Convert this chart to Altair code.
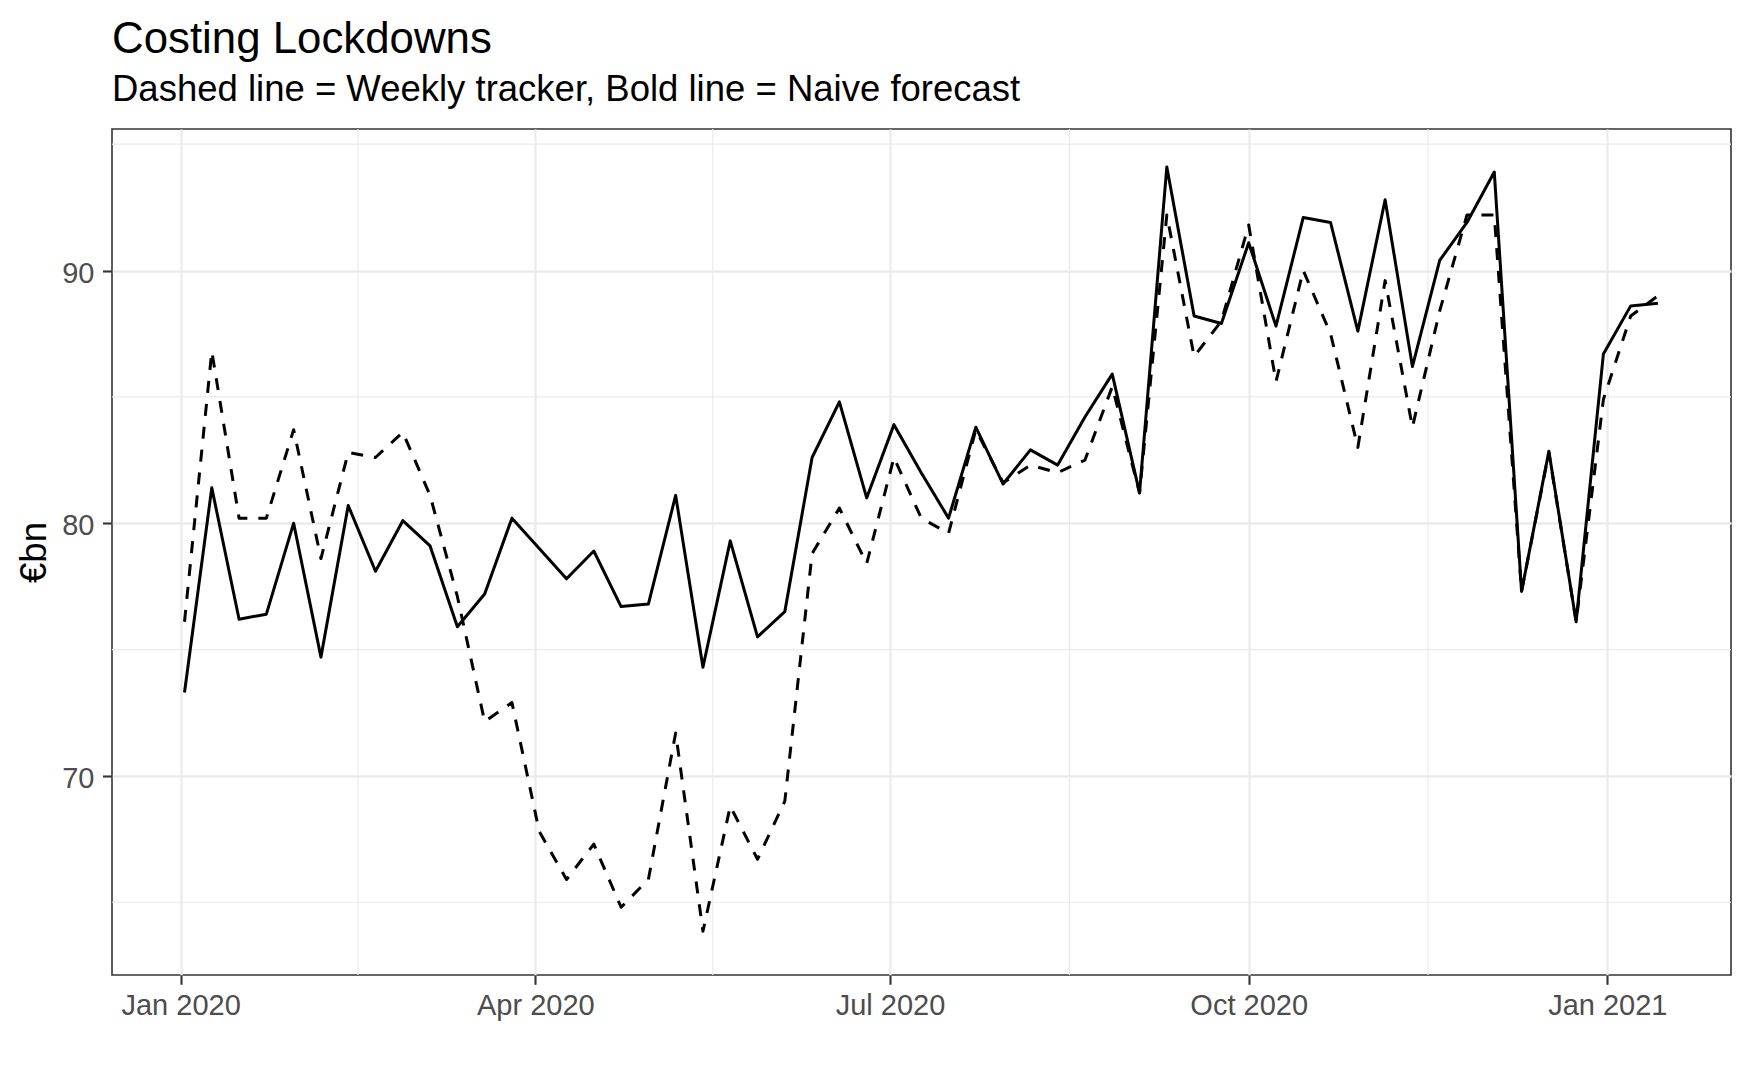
import altair as alt
import pandas as pd

# ---------------- data ----------------
dates = [
    "2020-01-02", "2020-01-09", "2020-01-16", "2020-01-23", "2020-01-30",
    "2020-02-06", "2020-02-13", "2020-02-20", "2020-02-27",
    "2020-03-05", "2020-03-12", "2020-03-19", "2020-03-26",
    "2020-04-02", "2020-04-09", "2020-04-16", "2020-04-23", "2020-04-30",
    "2020-05-07", "2020-05-14", "2020-05-21", "2020-05-28",
    "2020-06-04", "2020-06-11", "2020-06-18", "2020-06-25",
    "2020-07-02", "2020-07-09", "2020-07-16", "2020-07-23", "2020-07-30",
    "2020-08-06", "2020-08-13", "2020-08-20", "2020-08-27",
    "2020-09-03", "2020-09-10", "2020-09-17", "2020-09-24",
    "2020-10-01", "2020-10-08", "2020-10-15", "2020-10-22", "2020-10-29",
    "2020-11-05", "2020-11-12", "2020-11-19", "2020-11-26",
    "2020-12-03", "2020-12-10", "2020-12-17", "2020-12-24", "2020-12-31",
    "2021-01-07", "2021-01-14",
]

# Bold line = Naive forecast
forecast = [
    73.3, 81.4, 76.2, 76.4, 80.0, 74.7, 80.7, 78.1, 80.1, 79.1,
    75.9, 77.2, 80.2, 79.0, 77.8, 78.9, 76.7, 76.8, 81.1, 74.3,
    79.3, 75.5, 76.5, 82.6, 84.8, 81.0, 83.9, 82.0, 80.2, 83.8,
    81.55, 82.9, 82.3, 84.2, 85.9, 81.2, 94.1, 88.2, 87.9, 91.1,
    87.8, 92.1, 91.9, 87.6, 92.8, 86.2, 90.4, 91.9, 93.9, 77.3,
    82.85, 76.1, 86.7, 88.6, 88.7,
]

# Dashed line = Weekly tracker
tracker = [
    76.1, 86.8, 80.2, 80.2, 83.7, 78.6, 82.8, 82.6, 83.6, 81.1,
    77.1, 72.15, 72.9, 67.8, 65.9, 67.3, 64.8, 65.9, 71.7, 63.85,
    68.8, 66.7, 69.0, 78.8, 80.6, 78.4, 82.6, 80.2, 79.6, 83.7,
    81.6, 82.3, 82.0, 82.5, 85.4, 81.2, 92.2, 86.6, 88.0, 91.8,
    85.6, 90.0, 87.5, 83.0, 89.6, 83.8, 88.4, 92.2, 92.2, 77.3,
    82.8, 76.1, 84.9, 88.2, 89.0,
]

y_major = [70, 80, 90]
y_minor = [65, 75, 85, 95]
x_minor = ["2020-02-15T12:00:00Z", "2020-05-16T12:00:00Z",
           "2020-08-16T00:00:00Z", "2020-11-16T00:00:00Z"]

title_text = "Costing Lockdowns"
subtitle_text = "Dashed line = Weekly tracker, Bold line = Naive forecast"
y_title = "€bn"

df = pd.DataFrame({"date": dates, "forecast": forecast, "tracker": tracker})

FONT = "Liberation Sans"
GRID = "#EBEBEB"

x_domain = [
    alt.DateTime(year=2019, month=12, date=14, hours=9, minutes=36, utc=True),
    alt.DateTime(year=2021, month=2, date=1, hours=17, minutes=30, utc=True),
]
x_ticks = [
    alt.DateTime(year=2020, month=1, date=1, utc=True),
    alt.DateTime(year=2020, month=4, date=1, utc=True),
    alt.DateTime(year=2020, month=7, date=1, utc=True),
    alt.DateTime(year=2020, month=10, date=1, utc=True),
    alt.DateTime(year=2021, month=1, date=1, utc=True),
]

xscale = alt.Scale(type="utc", domain=x_domain, nice=False)
yscale = alt.Scale(domain=[62.12, 95.6], zero=False, nice=False)

xaxis = alt.Axis(
    values=x_ticks, format="%b %Y", title=None,
    labelFont=FONT, labelFontSize=29, labelColor="#4D4D4D",
    labelPadding=7.6, labelFlush=False, labelOverlap=False,
    tickColor="#333333", tickWidth=2.1, tickSize=9.3,
    domain=False, grid=True, gridColor=GRID, gridWidth=2.3,
)
yaxis = alt.Axis(
    values=y_major, title=y_title,
    labelFont=FONT, labelFontSize=29, labelColor="#4D4D4D",
    labelPadding=8.5, labelOffset=2.7, labelFlush=False,
    tickColor="#333333", tickWidth=2.1, tickSize=9.5,
    domain=False, grid=True, gridColor=GRID, gridWidth=2.3,
    titleFont=FONT, titleFontSize=36.5, titleFontWeight="normal",
    titleColor="black", titleAngle=270, titleAlign="center",
    titleBaseline="alphabetic", titleX=-66.7, titleY=423,
)

vminor = alt.Chart(pd.DataFrame({"d": x_minor})).mark_rule(
    color=GRID, strokeWidth=1.2
).encode(x=alt.X("d:T", scale=xscale, axis=xaxis))

hminor = alt.Chart(pd.DataFrame({"v": y_minor})).mark_rule(
    color=GRID, strokeWidth=1.2
).encode(y=alt.Y("v:Q", scale=yscale, axis=yaxis))

base = alt.Chart(df)
dashed = base.mark_line(
    color="black", strokeWidth=3, strokeDash=[12, 11], strokeJoin="round"
).encode(
    x=alt.X("date:T", scale=xscale, axis=xaxis),
    y=alt.Y("tracker:Q", scale=yscale, axis=yaxis),
)
solid = base.mark_line(
    color="black", strokeWidth=3, strokeJoin="round"
).encode(
    x=alt.X("date:T", scale=xscale, axis=xaxis),
    y=alt.Y("forecast:Q", scale=yscale, axis=yaxis),
)

chart = alt.layer(vminor, hminor, dashed, solid).properties(
    width=1619,
    height=846,
    background="white",
    autosize=alt.AutoSizeParams(type="none"),
    padding={"left": 104, "top": 121, "right": 10, "bottom": 90},
    title=alt.TitleParams(
        text=title_text, subtitle=subtitle_text,
        anchor="start", frame="group",
        font=FONT, fontSize=43.8, fontWeight="normal", color="black",
        subtitleFont=FONT, subtitleFontSize=36.5, subtitleColor="black",
        subtitlePadding=10.3, offset=19.6,
    ),
).configure_view(
    stroke="#333333", strokeWidth=1.6
)

chart.save("out.html", embed_options={"renderer": "svg", "actions": False})
